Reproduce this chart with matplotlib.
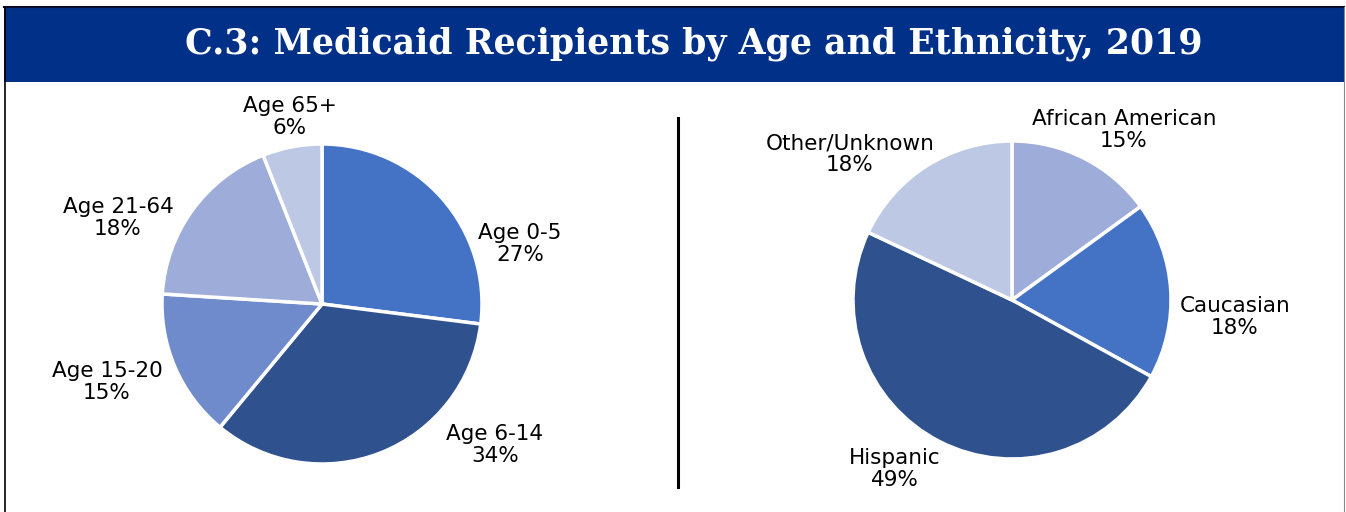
import matplotlib.pyplot as plt
from matplotlib.patches import Rectangle
from matplotlib.lines import Line2D

# Medicaid recipients by age group (percent)
age_labels = ["Age 0-5", "Age 6-14", "Age 15-20", "Age 21-64", "Age 65+"]
age_values = [27, 34, 15, 18, 6]
age_colors = ["#4472C4", "#2F528F", "#6F8BCB", "#9DACD8", "#BDC8E4"]

# Medicaid recipients by ethnicity (percent)
eth_labels = ["African American", "Caucasian", "Hispanic", "Other/Unknown"]
eth_values = [15, 18, 49, 18]
eth_colors = ["#9DACD8", "#4472C4", "#2F528F", "#BDC8E4"]

W, H = 1346, 512
fig = plt.figure(figsize=(W / 100, H / 100), dpi=100)
fig.patch.set_facecolor("white")


def px_axes(cx, cy, r):
    # axes box (in pixels from top-left) holding a pie of radius r
    return fig.add_axes([(cx - r) / W, (H - cy - r) / H, 2 * r / W, 2 * r / H])


def draw_pie(ax, values, colors, labels, label_pos, r):
    ax.pie(values, colors=colors, startangle=90, counterclock=False,
           radius=1, wedgeprops=dict(edgecolor="white", linewidth=2.5))
    ax.set_xlim(-1, 1)
    ax.set_ylim(-1, 1)
    ax.set_aspect("equal")
    ax.axis("off")
    for lab, val, (dx, dy) in zip(labels, values, label_pos):
        ax.text(dx / r, -dy / r, f"{lab}\n{val}%", ha="center", va="center",
                fontsize=15.5, linespacing=1.12, color="black",
                family="DejaVu Sans", clip_on=False)


# label offsets from pie centre, in pixels (x right, y down)
age_pos = [(198, -60), (173, 141), (-215, 78), (-204, -86), (-32, -187)]
eth_pos = [(112, -170), (223, 17), (-117, 169), (-162, -146)]

ax1 = px_axes(322, 304, 160)
draw_pie(ax1, age_values, age_colors, age_labels, age_pos, 160)

ax2 = px_axes(1012, 300, 159)
draw_pie(ax2, eth_values, eth_colors, eth_labels, eth_pos, 159)

# header band and frame
fig.patches.append(Rectangle((4 / W, (H - 82) / H), 1340 / W, 75 / H,
                             transform=fig.transFigure, facecolor="#003087",
                             edgecolor="none", zorder=0))
fig.lines.append(Line2D([4 / W, 1344 / W], [(H - 7) / H] * 2,
                        transform=fig.transFigure, color="#0a0a2a", lw=1.5))
fig.lines.append(Line2D([4.5 / W] * 2, [0, (H - 7) / H],
                        transform=fig.transFigure, color="black", lw=1.2))
fig.lines.append(Line2D([1344 / W] * 2, [0, (H - 7) / H],
                        transform=fig.transFigure, color="#888888", lw=0.8))
fig.lines.append(Line2D([678 / W] * 2, [(H - 487) / H, (H - 118) / H],
                        transform=fig.transFigure, color="black", lw=2.2))

fig.text(694 / W, (H - 44) / H,
         "C.3: Medicaid Recipients by Age and Ethnicity, 2019",
         ha="center", va="center", color="white", fontsize=25,
         fontweight="bold", family="DejaVu Serif")

fig.savefig("out.png", dpi=100)
